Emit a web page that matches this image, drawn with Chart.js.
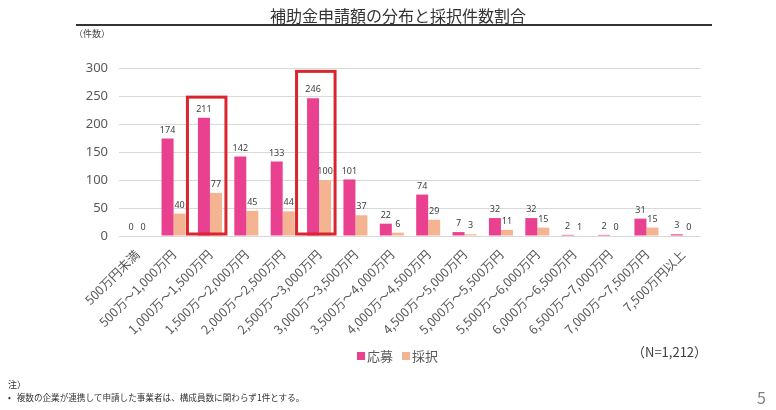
<!DOCTYPE html>
<html lang="ja">
<head>
<meta charset="utf-8">
<script src="https://cdn.jsdelivr.net/npm/chart.js@4/dist/chart.umd.min.js"></script>
<style>
  body { margin: 0; background: #fff; font-family: "Noto Sans CJK JP", sans-serif; }
  #wrap { position: relative; width: 776px; height: 410px; overflow: hidden; }
  #chart { position: absolute; left: 0; top: 0; }
  .txt { position: absolute; white-space: nowrap; line-height: 1; }
  #title { left: 0; width: 796px; top: 7px; text-align: center; font-size: 16px; color: #333; }
  #rule { position: absolute; left: 76px; width: 636px; top: 24px; height: 2px; background: #333; }
  #unit { left: 74px; top: 29px; font-size: 9px; color: #404040; }
  #legend { left: 357px; top: 349px; font-size: 13px; color: #595959; }
  #legend span.box { display: inline-block; width: 8px; height: 8px; margin-right: 2px; vertical-align: 1px; }
  #legend span.item { margin-right: 9px; }
  #n { left: 632px; top: 345px; font-size: 13px; color: #404040; }
  #note1 { left: 8px; top: 380px; font-size: 9px; color: #333; }
  #note2 { left: 8px; top: 393px; font-size: 8.6px; color: #333; }
  #page { left: 757px; top: 389px; font-size: 16px; color: #7f7f7f; }
</style>
</head>
<body>
<div id="wrap">
  <canvas id="chart" width="776" height="410"></canvas>
  <div class="txt" id="title">補助金申請額の分布と採択件数割合</div>
  <div id="rule"></div>
  <div class="txt" id="unit">（件数）</div>
  <div class="txt" id="legend"></div>
  <div class="txt" id="n">（N=1,212）</div>
  <div class="txt" id="note1">注）</div>
  <div class="txt" id="note2">•&nbsp;&nbsp;&nbsp;複数の企業が連携して申請した事業者は、構成員数に関わらず1件とする。</div>
  <div class="txt" id="page">5</div>
</div>
<script>
const categories = [
  "500万円未満", "500万～1,000万円", "1,000万～1,500万円", "1,500万～2,000万円",
  "2,000万～2,500万円", "2,500万～3,000万円", "3,000万～3,500万円", "3,500万～4,000万円",
  "4,000万～4,500万円", "4,500万～5,000万円", "5,000万～5,500万円", "5,500万～6,000万円",
  "6,000万～6,500万円", "6,500万～7,000万円", "7,000万～7,500万円", "7,500万円以上"
];
const seriesNames = ["応募", "採択"];
const applied = [0, 174, 211, 142, 133, 246, 101, 22, 74, 7, 32, 32, 2, 2, 31, 3];
const adopted = [0, 40, 77, 45, 44, 100, 37, 6, 29, 3, 11, 15, 1, 0, 15, 0];
const yTicks = [0, 50, 100, 150, 200, 250, 300];
// red boxes: category index and top value of the box
const highlightIndex = [2, 5];
const highlightTop = [248, 294];

const colors = ["#e9418f", "#f4b391"];

// legend in html
const legendEl = document.getElementById("legend");
seriesNames.forEach((name, i) => {
  legendEl.innerHTML += '<span class="item"><span class="box" style="background:' + colors[i] + '"></span>' + name + '</span>';
});

const valueLabels = {
  id: "valueLabels",
  afterDatasetsDraw(chart) {
    const ctx = chart.ctx;
    ctx.save();
    ctx.font = '9px "Noto Sans", sans-serif';
    ctx.fillStyle = "#404040";
    ctx.textAlign = "center";
    ctx.textBaseline = "bottom";
    chart.data.datasets.forEach((ds, di) => {
      chart.getDatasetMeta(di).data.forEach((bar, i) => {
        ctx.fillText(ds.data[i], bar.x, bar.y - 4);
      });
    });
    ctx.restore();
  }
};

const highlightBoxes = {
  id: "highlightBoxes",
  afterDatasetsDraw(chart) {
    const ctx = chart.ctx;
    const y = chart.scales.y;
    const m0 = chart.getDatasetMeta(0).data;
    const m1 = chart.getDatasetMeta(1).data;
    ctx.save();
    ctx.strokeStyle = "#d9252e";
    ctx.lineWidth = 3;
    highlightIndex.forEach((idx, k) => {
      const left = m0[idx].x - m0[idx].width / 2 - 10.5;
      const right = m1[idx].x + m1[idx].width / 2 + 4;
      const top = y.getPixelForValue(highlightTop[k]);
      const bottom = y.getPixelForValue(0) - 2;
      ctx.strokeRect(left, top, right - left, bottom - top);
    });
    ctx.restore();
  }
};

new Chart(document.getElementById("chart"), {
  type: "bar",
  data: {
    labels: categories,
    datasets: [
      { label: seriesNames[0], data: applied, backgroundColor: colors[0] },
      { label: seriesNames[1], data: adopted, backgroundColor: colors[1] }
    ]
  },
  options: {
    responsive: false,
    animation: false,
    categoryPercentage: 0.66,
    barPercentage: 1.0,
    layout: { padding: { top: 68, right: 75, left: 0, bottom: 0 } },
    plugins: { legend: { display: false }, tooltip: { enabled: false } },
    scales: {
      x: {
        grid: { display: false },
        border: { display: false },
        ticks: {
          autoSkip: false, minRotation: 45, maxRotation: 45, padding: 3,
          color: "#595959", font: { family: '"Noto Sans CJK JP", sans-serif', size: 12.5 }
        },
        afterFit(s) { s.height = 174; }
      },
      y: {
        min: 0, max: 300,
        afterBuildTicks(s) { s.ticks = yTicks.map(v => ({ value: v })); },
        grid: { color: "#d9d9d9", drawTicks: false },
        border: { display: false },
        ticks: { padding: 11, color: "#595959", font: { family: '"Noto Sans", sans-serif', size: 13 } },
        afterFit(s) { s.width = 119; }
      }
    }
  },
  plugins: [valueLabels, highlightBoxes]
});
</script>
</body>
</html>
